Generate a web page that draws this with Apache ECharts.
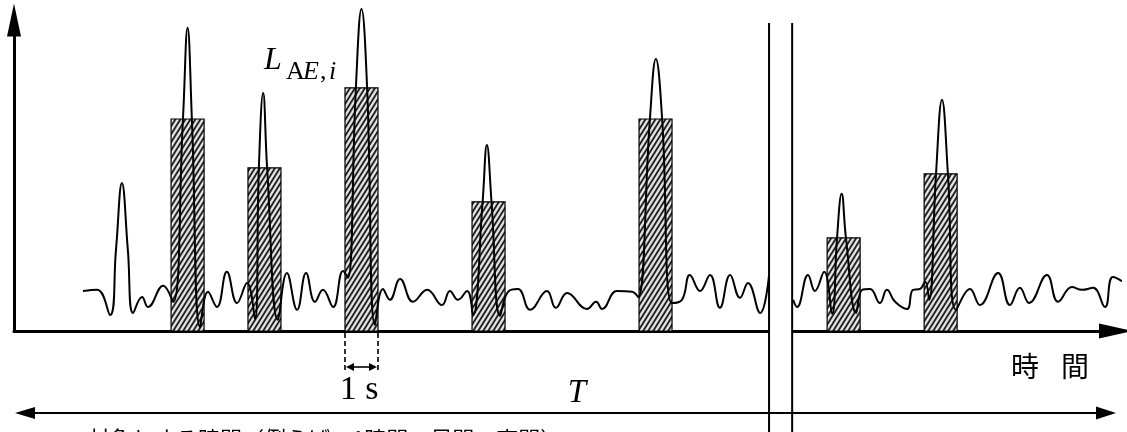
<!DOCTYPE html>
<html>
<head>
<meta charset="utf-8">
<script src="https://cdn.jsdelivr.net/npm/echarts@6/dist/echarts.min.js"></script>
<style>
  html, body { margin: 0; padding: 0; background: #fff; }
  #main { width: 1127px; height: 432px; }
</style>
</head>
<body>
<div id="main"></div>
<script>
// 1 s 区間（ハッチング）の開始時刻 [s] と L_AE,i の高さ
const barStart = [4.76, 7.09, 10.03, 13.88, 18.94, 24.64, 27.58];
const barLevel = [53, 40.8, 60.8, 32.3, 53, 23.3, 39.3];

// 騒音レベルの時間変化（中断記号の左側）
const waveLeftTime = [2.09, 2.52, 2.91, 3.09, 3.27, 3.45, 3.61, 3.88, 4.06, 4.52, 4.82, 5.12, 5.26, 5.39, 5.64, 5.88,
  6.15, 6.45, 6.76, 7.06, 7.30, 7.42, 7.55, 7.67, 8.00, 8.27, 8.58, 8.85, 9.12, 9.36, 9.67, 9.97, 10.12, 10.36,
  10.53, 10.70, 10.94, 11.18, 11.39, 11.70, 12.09, 12.52, 12.97, 13.21, 13.45, 13.73, 13.91, 14.20, 14.33, 14.47,
  14.73, 14.97, 15.27, 15.64, 16.15, 16.42, 16.76, 17.36, 17.64, 17.82, 18.27, 18.73, 18.91, 19.27, 19.45, 19.64,
  19.94, 20.24, 20.48, 20.79, 21.09, 21.39, 21.70, 22.00, 22.24, 22.61, 22.88];
const waveLeftLevel = [10, 10.3, 4, 20.3, 37, 20.3, 4.5, 8.5, 6, 11.3, 7.3, 53, 75.8, 53, 1, 9.8,
  6, 14.8, 7, 12, 3, 40.8, 59.5, 40.8, 2.8, 14.5, 5.3, 14.5, 7.3, 10.3, 6, 15, 13.3, 60.8,
  80.5, 60.8, 1.5, 10.5, 7.8, 13, 7.3, 10.3, 6.5, 10, 7.8, 10, 4, 32.3, 46.5, 32.3,
  3.8, 9.8, 10.5, 5.3, 10, 5.8, 9.5, 5.5, 7.3, 5.5, 10, 9.8, 8.5, 53, 68, 53,
  7, 7.8, 14, 10, 14, 5.8, 14, 8.3, 12, 4.5, 14];

// 中断記号の右側
const waveRightTime = [23.61, 23.73, 24.06, 24.27, 24.55, 24.79, 24.94, 25.08, 25.21, 25.52, 25.70, 25.94, 26.24,
  26.45, 26.70, 27.06, 27.24, 27.45, 27.61, 27.73, 27.94, 28.12, 28.30, 28.55, 28.97, 29.27, 29.82, 30.18, 30.48,
  30.76, 31.30, 31.64, 32.06, 32.36, 32.70, 33.06, 33.30, 33.67];
const waveRightLevel = [7.8, 6, 14, 10, 14.8, 4.3, 23.3, 34.3, 23.3, 4.5, 10.3, 10.5, 7,
  10.3, 7.3, 5.5, 10.3, 10.5, 12.3, 7.8, 39.3, 57.8, 39.3, 5.3, 10.5, 6.5, 14.5, 6.5, 10.8,
  7, 14, 7.3, 11, 10.3, 10.8, 6, 13.5, 12];

// 時間軸の中断位置
const breakTime = [22.88, 23.58];

// ハッチング用パターン
function makeHatch() {
  const w = 5, h = 8;
  const c = document.createElement("canvas");
  c.width = w;
  c.height = h;
  const g = c.getContext("2d");
  g.fillStyle = "#e0e0e0";
  g.fillRect(0, 0, w, h);
  g.strokeStyle = "#1e1e1e";
  g.lineWidth = 1.8;
  g.beginPath();
  [-1, 0, 1].forEach((k) => {
    g.moveTo(k * w - w * 0.25, h + 2);
    g.lineTo(k * w + w + w * 0.25, -2);
  });
  g.stroke();
  return c;
}
const hatch = makeHatch();

const zip = (a, b) => a.map((v, i) => [v, b[i]]);

const chart = echarts.init(document.getElementById("main"));

const waveStyle = {
  type: "line",
  smooth: 0.45,
  showSymbol: false,
  clip: false,
  silent: true,
  lineStyle: { color: "#000", width: 2 },
  z: 3,
};

const plainAxis = {
  type: "value",
  min: 0,
  axisTick: { show: false },
  axisLabel: { show: false },
  splitLine: { show: false },
};

chart.setOption({
  animation: false,
  grid: { left: 14, right: 6, top: 15, bottom: 101 },
  xAxis: Object.assign({}, plainAxis, {
    max: 33.545,
    axisLine: {
      show: true,
      symbol: ["none", "triangle"],
      symbolSize: [15, 34],
      symbolOffset: [0, -5],
      lineStyle: { color: "#000", width: 3 },
    },
  }),
  yAxis: Object.assign({}, plainAxis, {
    max: 79,
    axisLine: {
      show: true,
      symbol: ["none", "triangle"],
      symbolSize: [14, 33],
      symbolOffset: [0, -5],
      lineStyle: { color: "#000", width: 3 },
    },
  }),
  series: [
    {
      type: "custom",
      silent: true,
      z: 2,
      data: zip(barStart, barLevel),
      renderItem: (params, api) => {
        const p0 = api.coord([api.value(0), api.value(1)]);
        const p1 = api.coord([api.value(0) + 1, 0]);
        return {
          type: "rect",
          shape: { x: p0[0], y: p0[1], width: p1[0] - p0[0], height: p1[1] - p0[1] },
          style: { fill: { image: hatch, repeat: "repeat" }, stroke: "#000", lineWidth: 1.2 },
        };
      },
    },
    Object.assign({ data: zip(waveLeftTime, waveLeftLevel) }, waveStyle),
    Object.assign({ data: zip(waveRightTime, waveRightLevel) }, waveStyle),
  ],
});

// 注記（中断記号・1 s・T）
const toPx = (t, v) => chart.convertToPixel({ gridIndex: 0 }, [t, v]);
const y0 = toPx(0, 0)[1];
const xb = breakTime.map((t) => toPx(t, 0)[0]);
const xs = toPx(barStart[2], 0)[0];
const xe = toPx(barStart[2] + 1, 0)[0];
const yDim = 367;
const yT = 413;
const serif = "'Liberation Serif', 'DejaVu Serif', serif";

const tri = (pts) => ({ type: "polygon", z: 60, shape: { points: pts }, style: { fill: "#000" } });
const seg = (x1, y1, x2, y2, extra) => ({
  type: "line",
  z: 60,
  shape: { x1, y1, x2, y2 },
  style: Object.assign({ stroke: "#000", lineWidth: 1.6 }, extra || {}),
});
const label = (text, x, y, font, align) => ({
  type: "text",
  z: 70,
  x,
  y,
  style: { text, font, fill: "#000", align: align || "left", verticalAlign: "middle" },
});

chart.setOption({
  graphic: [
    { type: "rect", z: 50, shape: { x: xb[0], y: 23, width: xb[1] - xb[0], height: 432 - 23 }, style: { fill: "#fff" } },
    seg(xb[0], 23, xb[0], 432, { lineWidth: 2 }),
    seg(xb[1], 23, xb[1], 432, { lineWidth: 2 }),
    seg(xs, y0 + 2, xs, 372, { lineDash: [5, 3] }),
    seg(xe, y0 + 2, xe, 372, { lineDash: [5, 3] }),
    seg(xs + 4, yDim, xe - 4, yDim),
    tri([[xs + 1, yDim], [xs + 9, yDim - 4], [xs + 9, yDim + 4]]),
    tri([[xe - 1, yDim], [xe - 9, yDim - 4], [xe - 9, yDim + 4]]),
    seg(30, yT, 1100, yT, { lineWidth: 2 }),
    tri([[15, yT], [35, yT - 6], [35, yT + 6]]),
    tri([[1116, yT], [1096, yT - 6.5], [1096, yT + 6.5]]),
    label("L", 264, 61, "italic 32px " + serif),
    label("A", 286, 72, "26px " + serif),
    label("E", 303, 72, "italic 26px " + serif),
    label(",", 320, 72, "26px " + serif),
    label("i", 329, 72, "italic 26px " + serif),
    label("1 s", 359, 390, "34px " + serif, "center"),
    label("T", 577, 393, "italic 33px " + serif, "center"),
    label("時", 1025, 366, "28px 'Noto Sans CJK JP'", "center"),
    label("間", 1075, 366, "28px 'Noto Sans CJK JP'", "center"),
    {
      type: "text", z: 70, x: 88, y: 428,
      style: { text: "対象とする時間（例えば、1時間、昼間、夜間）", font: "22px 'Noto Sans CJK JP'", fill: "#000", align: "left", verticalAlign: "top" },
    },
  ],
});
</script>
</body>
</html>
